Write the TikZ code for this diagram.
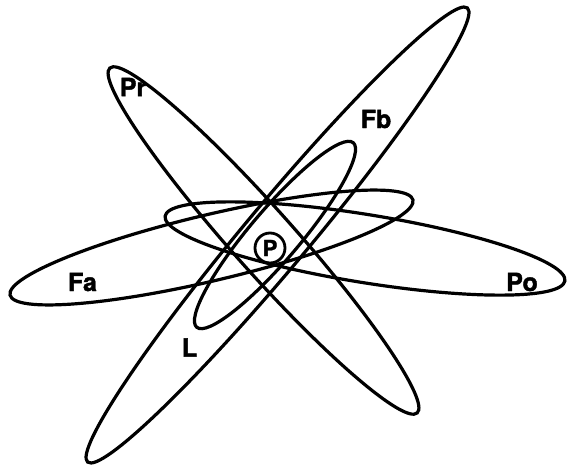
\documentclass[tikz,border=0pt]{standalone}
\usepackage{fontspec}
\setmainfont{TeX Gyre Heros}
\newfontfamily\heavyfont{TeX Gyre Heros}[UprightFont=*-Bold, FakeBold=1.6]
\usetikzlibrary{shapes.geometric}
\begin{document}
\begin{tikzpicture}[x=1pt,y=1pt,
  orbit/.style={draw, ellipse, line width=3.2pt, inner sep=0pt, outer sep=0pt},
  lbl/.style={font=\heavyfont\fontsize{25}{25}\selectfont, inner sep=0pt}]
\useasboundingbox (0,0) rectangle (567,467);
% long orbits
\node[orbit, minimum width=592pt, minimum height=64pt, rotate=50.1] (fb) at (277.5,232) {};
\node[orbit, minimum width=462pt, minimum height=62pt, rotate=-48.3] (pr) at (263.5,226.5) {};
\node[orbit, minimum width=414pt, minimum height=66pt, rotate=13.3] (fa) at (211.5,219.5) {};
\node[orbit, minimum width=405pt, minimum height=68pt, rotate=-9.2] (po) at (365,218.5) {};
\node[orbit, minimum width=242pt, minimum height=50pt, rotate=49.7] (lo) at (275,232) {};
% nucleus
\node[draw, circle, line width=2.8pt, minimum size=30pt, inner sep=0pt,
      font=\heavyfont\fontsize{22}{22}\selectfont] (p) at (270,219) {P};
% labels
\node[lbl] (tpr) at (133,380) {Pr};
\node[lbl] (tfb) at (376,348) {Fb};
\node[lbl] (tfa) at (82.5,185) {Fa};
\node[lbl] (tpo) at (522,185) {Po};
\node[lbl] (tl)  at (189.5,119.5) {L};
\end{tikzpicture}
\end{document}
